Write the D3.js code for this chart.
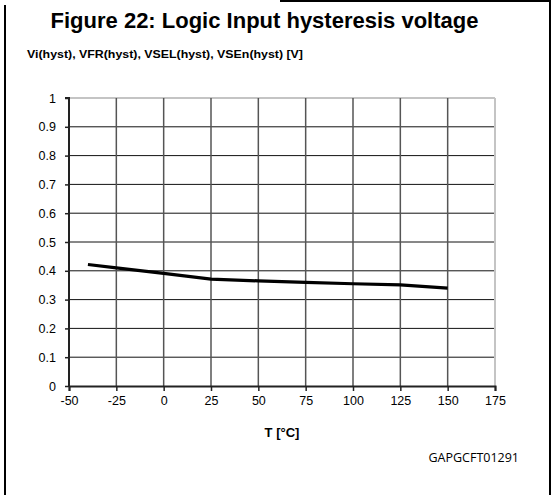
<!DOCTYPE html>
<html><head><meta charset="utf-8">
<script src="https://cdn.jsdelivr.net/npm/d3@7"></script>
<style>body{margin:0;background:#fff}svg{display:block}</style>
</head><body>
<script>
const temps = [-40, -25, 0, 25, 50, 75, 100, 125, 150];
const hyst = [0.422, 0.41, 0.391, 0.371, 0.365, 0.36, 0.355, 0.351, 0.34];
const xTicks = [-50, -25, 0, 25, 50, 75, 100, 125, 150, 175];
const yTicks = [0, 0.1, 0.2, 0.3, 0.4, 0.5, 0.6, 0.7, 0.8, 0.9, 1];

const W = 552, H = 495;
const svg = d3.select("body").append("svg").attr("width", W).attr("height", H);
const font = "Liberation Sans, Arial, sans-serif";

// frame
svg.append("line").attr("x1",5).attr("x2",5).attr("y1",5).attr("y2",H).attr("stroke","#000").attr("stroke-width",2);
svg.append("line").attr("x1",550).attr("x2",550).attr("y1",0).attr("y2",H).attr("stroke","#000").attr("stroke-width",2);
svg.append("line").attr("x1",280).attr("x2",551).attr("y1",1).attr("y2",1).attr("stroke","#000").attr("stroke-width",2);

svg.append("text").attr("x",264.5).attr("y",28).attr("text-anchor","middle")
  .attr("font-family",font).attr("font-weight","bold").attr("font-size",22)
  .text("Figure 22: Logic Input hysteresis voltage");

svg.append("text").attr("x",27).attr("y",58)
  .attr("font-family",font).attr("font-weight","bold").attr("font-size",11.5)
  .attr("textLength",276).attr("lengthAdjust","spacingAndGlyphs")
  .text("Vi(hyst), VFR(hyst), VSEL(hyst), VSEn(hyst) [V]");

const x = d3.scaleLinear().domain([-50,175]).range([69,495]);
const y = d3.scaleLinear().domain([0,1]).range([386,98]);

// horizontal grid
svg.append("g").selectAll("line").data(yTicks.filter(d=>d>0)).join("line")
  .attr("x1",x(-50)).attr("x2",x(175)).attr("y1",d=>y(d)).attr("y2",d=>y(d))
  .attr("stroke",d=>d===1?"#c4c4c4":"#111").attr("stroke-width",d=>d===1?2:1);
// vertical grid
svg.append("g").selectAll("line").data(xTicks.filter(d=>d>-50)).join("line")
  .attr("x1",d=>x(d)).attr("x2",d=>x(d)).attr("y1",y(1)).attr("y2",y(0))
  .attr("stroke",d=>d===175?"#c4c4c4":"#555").attr("stroke-width",d=>d===175?2:1.5);

// axes
const fmt = d => String(d);
const yAxis = svg.append("g").attr("transform",`translate(${x(-50)},0)`)
  .call(d3.axisLeft(y).tickValues(yTicks).tickSize(4).tickPadding(9).tickFormat(fmt));
const xAxis = svg.append("g").attr("transform",`translate(0,${y(0)})`)
  .call(d3.axisBottom(x).tickValues(xTicks).tickSize(5).tickPadding(5).tickFormat(fmt));
[yAxis,xAxis].forEach(a=>{
  a.select(".domain").attr("stroke","#222").attr("stroke-width",2);
  a.selectAll(".tick line").attr("stroke","#222").attr("stroke-width",1.5);
  a.selectAll("text").attr("font-family",font).attr("font-size",12.5).attr("fill","#000");
});
yAxis.select(".domain").attr("d",`M-4,${y(1)}H0V${y(0)}`);

// data line
svg.append("path").datum(temps.map((t,i)=>[t,hyst[i]]))
  .attr("fill","none").attr("stroke","#000").attr("stroke-width",3.2)
  .attr("d",d3.line().x(d=>x(d[0])).y(d=>y(d[1])));

svg.append("text").attr("x",282).attr("y",437).attr("text-anchor","middle")
  .attr("font-family",font).attr("font-weight","bold").attr("font-size",13).text("T [°C]");

svg.append("text").attr("x",519).attr("y",462).attr("text-anchor","end")
  .attr("font-family","Open Sans, sans-serif").attr("font-size",12.5).text("GAPGCFT01291");
</script>
</body></html>
